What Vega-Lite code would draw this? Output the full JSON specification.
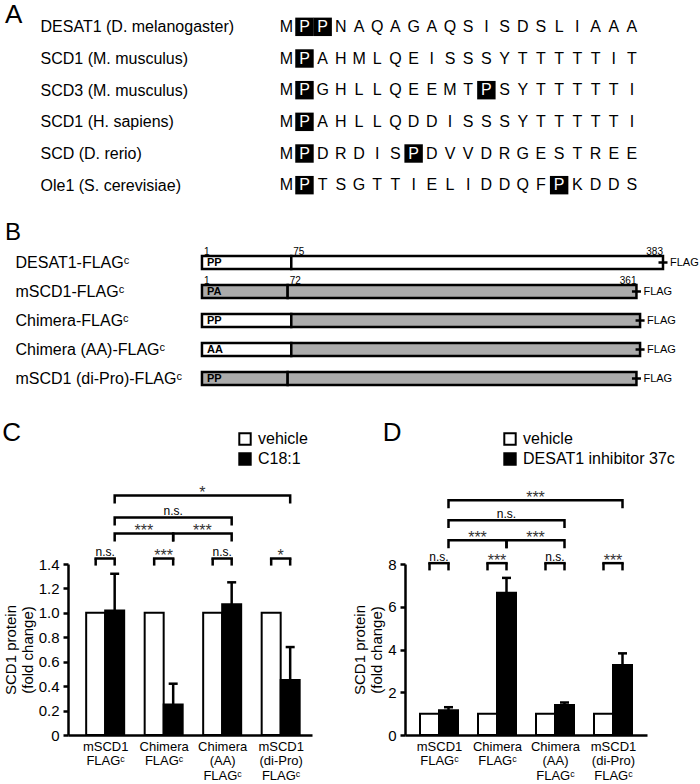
{
  "$schema": "https://vega.github.io/schema/vega-lite/v6.json",
  "background": "white",
  "padding": {"left": 2, "top": 2, "right": 0, "bottom": 0},
  "config": {
    "font": "Liberation Sans",
    "view": {"stroke": null},
    "axis": {"labelColor": "black", "titleColor": "black", "domainColor": "black", "tickColor": "black", "grid": false},
    "legend": {"labelColor": "black"},
    "title": {"color": "black", "fontWeight": "normal", "anchor": "start", "frame": "bounds", "baseline": "alphabetic"}
  },
  "datasets": {
    "seq": [
      {"protein": "DESAT1 (D. melanogaster)", "pos": 1, "aa": "M"},
      {"protein": "DESAT1 (D. melanogaster)", "pos": 2, "aa": "P", "hl": true},
      {"protein": "DESAT1 (D. melanogaster)", "pos": 3, "aa": "P", "hl": true},
      {"protein": "DESAT1 (D. melanogaster)", "pos": 4, "aa": "N"},
      {"protein": "DESAT1 (D. melanogaster)", "pos": 5, "aa": "A"},
      {"protein": "DESAT1 (D. melanogaster)", "pos": 6, "aa": "Q"},
      {"protein": "DESAT1 (D. melanogaster)", "pos": 7, "aa": "A"},
      {"protein": "DESAT1 (D. melanogaster)", "pos": 8, "aa": "G"},
      {"protein": "DESAT1 (D. melanogaster)", "pos": 9, "aa": "A"},
      {"protein": "DESAT1 (D. melanogaster)", "pos": 10, "aa": "Q"},
      {"protein": "DESAT1 (D. melanogaster)", "pos": 11, "aa": "S"},
      {"protein": "DESAT1 (D. melanogaster)", "pos": 12, "aa": "I"},
      {"protein": "DESAT1 (D. melanogaster)", "pos": 13, "aa": "S"},
      {"protein": "DESAT1 (D. melanogaster)", "pos": 14, "aa": "D"},
      {"protein": "DESAT1 (D. melanogaster)", "pos": 15, "aa": "S"},
      {"protein": "DESAT1 (D. melanogaster)", "pos": 16, "aa": "L"},
      {"protein": "DESAT1 (D. melanogaster)", "pos": 17, "aa": "I"},
      {"protein": "DESAT1 (D. melanogaster)", "pos": 18, "aa": "A"},
      {"protein": "DESAT1 (D. melanogaster)", "pos": 19, "aa": "A"},
      {"protein": "DESAT1 (D. melanogaster)", "pos": 20, "aa": "A"},
      {"protein": "SCD1 (M. musculus)", "pos": 1, "aa": "M"},
      {"protein": "SCD1 (M. musculus)", "pos": 2, "aa": "P", "hl": true},
      {"protein": "SCD1 (M. musculus)", "pos": 3, "aa": "A"},
      {"protein": "SCD1 (M. musculus)", "pos": 4, "aa": "H"},
      {"protein": "SCD1 (M. musculus)", "pos": 5, "aa": "M"},
      {"protein": "SCD1 (M. musculus)", "pos": 6, "aa": "L"},
      {"protein": "SCD1 (M. musculus)", "pos": 7, "aa": "Q"},
      {"protein": "SCD1 (M. musculus)", "pos": 8, "aa": "E"},
      {"protein": "SCD1 (M. musculus)", "pos": 9, "aa": "I"},
      {"protein": "SCD1 (M. musculus)", "pos": 10, "aa": "S"},
      {"protein": "SCD1 (M. musculus)", "pos": 11, "aa": "S"},
      {"protein": "SCD1 (M. musculus)", "pos": 12, "aa": "S"},
      {"protein": "SCD1 (M. musculus)", "pos": 13, "aa": "Y"},
      {"protein": "SCD1 (M. musculus)", "pos": 14, "aa": "T"},
      {"protein": "SCD1 (M. musculus)", "pos": 15, "aa": "T"},
      {"protein": "SCD1 (M. musculus)", "pos": 16, "aa": "T"},
      {"protein": "SCD1 (M. musculus)", "pos": 17, "aa": "T"},
      {"protein": "SCD1 (M. musculus)", "pos": 18, "aa": "T"},
      {"protein": "SCD1 (M. musculus)", "pos": 19, "aa": "I"},
      {"protein": "SCD1 (M. musculus)", "pos": 20, "aa": "T"},
      {"protein": "SCD3 (M. musculus)", "pos": 1, "aa": "M"},
      {"protein": "SCD3 (M. musculus)", "pos": 2, "aa": "P", "hl": true},
      {"protein": "SCD3 (M. musculus)", "pos": 3, "aa": "G"},
      {"protein": "SCD3 (M. musculus)", "pos": 4, "aa": "H"},
      {"protein": "SCD3 (M. musculus)", "pos": 5, "aa": "L"},
      {"protein": "SCD3 (M. musculus)", "pos": 6, "aa": "L"},
      {"protein": "SCD3 (M. musculus)", "pos": 7, "aa": "Q"},
      {"protein": "SCD3 (M. musculus)", "pos": 8, "aa": "E"},
      {"protein": "SCD3 (M. musculus)", "pos": 9, "aa": "E"},
      {"protein": "SCD3 (M. musculus)", "pos": 10, "aa": "M"},
      {"protein": "SCD3 (M. musculus)", "pos": 11, "aa": "T"},
      {"protein": "SCD3 (M. musculus)", "pos": 12, "aa": "P", "hl": true},
      {"protein": "SCD3 (M. musculus)", "pos": 13, "aa": "S"},
      {"protein": "SCD3 (M. musculus)", "pos": 14, "aa": "Y"},
      {"protein": "SCD3 (M. musculus)", "pos": 15, "aa": "T"},
      {"protein": "SCD3 (M. musculus)", "pos": 16, "aa": "T"},
      {"protein": "SCD3 (M. musculus)", "pos": 17, "aa": "T"},
      {"protein": "SCD3 (M. musculus)", "pos": 18, "aa": "T"},
      {"protein": "SCD3 (M. musculus)", "pos": 19, "aa": "T"},
      {"protein": "SCD3 (M. musculus)", "pos": 20, "aa": "I"},
      {"protein": "SCD1 (H. sapiens)", "pos": 1, "aa": "M"},
      {"protein": "SCD1 (H. sapiens)", "pos": 2, "aa": "P", "hl": true},
      {"protein": "SCD1 (H. sapiens)", "pos": 3, "aa": "A"},
      {"protein": "SCD1 (H. sapiens)", "pos": 4, "aa": "H"},
      {"protein": "SCD1 (H. sapiens)", "pos": 5, "aa": "L"},
      {"protein": "SCD1 (H. sapiens)", "pos": 6, "aa": "L"},
      {"protein": "SCD1 (H. sapiens)", "pos": 7, "aa": "Q"},
      {"protein": "SCD1 (H. sapiens)", "pos": 8, "aa": "D"},
      {"protein": "SCD1 (H. sapiens)", "pos": 9, "aa": "D"},
      {"protein": "SCD1 (H. sapiens)", "pos": 10, "aa": "I"},
      {"protein": "SCD1 (H. sapiens)", "pos": 11, "aa": "S"},
      {"protein": "SCD1 (H. sapiens)", "pos": 12, "aa": "S"},
      {"protein": "SCD1 (H. sapiens)", "pos": 13, "aa": "S"},
      {"protein": "SCD1 (H. sapiens)", "pos": 14, "aa": "Y"},
      {"protein": "SCD1 (H. sapiens)", "pos": 15, "aa": "T"},
      {"protein": "SCD1 (H. sapiens)", "pos": 16, "aa": "T"},
      {"protein": "SCD1 (H. sapiens)", "pos": 17, "aa": "T"},
      {"protein": "SCD1 (H. sapiens)", "pos": 18, "aa": "T"},
      {"protein": "SCD1 (H. sapiens)", "pos": 19, "aa": "T"},
      {"protein": "SCD1 (H. sapiens)", "pos": 20, "aa": "I"},
      {"protein": "SCD (D. rerio)", "pos": 1, "aa": "M"},
      {"protein": "SCD (D. rerio)", "pos": 2, "aa": "P", "hl": true},
      {"protein": "SCD (D. rerio)", "pos": 3, "aa": "D"},
      {"protein": "SCD (D. rerio)", "pos": 4, "aa": "R"},
      {"protein": "SCD (D. rerio)", "pos": 5, "aa": "D"},
      {"protein": "SCD (D. rerio)", "pos": 6, "aa": "I"},
      {"protein": "SCD (D. rerio)", "pos": 7, "aa": "S"},
      {"protein": "SCD (D. rerio)", "pos": 8, "aa": "P", "hl": true},
      {"protein": "SCD (D. rerio)", "pos": 9, "aa": "D"},
      {"protein": "SCD (D. rerio)", "pos": 10, "aa": "V"},
      {"protein": "SCD (D. rerio)", "pos": 11, "aa": "V"},
      {"protein": "SCD (D. rerio)", "pos": 12, "aa": "D"},
      {"protein": "SCD (D. rerio)", "pos": 13, "aa": "R"},
      {"protein": "SCD (D. rerio)", "pos": 14, "aa": "G"},
      {"protein": "SCD (D. rerio)", "pos": 15, "aa": "E"},
      {"protein": "SCD (D. rerio)", "pos": 16, "aa": "S"},
      {"protein": "SCD (D. rerio)", "pos": 17, "aa": "T"},
      {"protein": "SCD (D. rerio)", "pos": 18, "aa": "R"},
      {"protein": "SCD (D. rerio)", "pos": 19, "aa": "E"},
      {"protein": "SCD (D. rerio)", "pos": 20, "aa": "E"},
      {"protein": "Ole1 (S. cerevisiae)", "pos": 1, "aa": "M"},
      {"protein": "Ole1 (S. cerevisiae)", "pos": 2, "aa": "P", "hl": true},
      {"protein": "Ole1 (S. cerevisiae)", "pos": 3, "aa": "T"},
      {"protein": "Ole1 (S. cerevisiae)", "pos": 4, "aa": "S"},
      {"protein": "Ole1 (S. cerevisiae)", "pos": 5, "aa": "G"},
      {"protein": "Ole1 (S. cerevisiae)", "pos": 6, "aa": "T"},
      {"protein": "Ole1 (S. cerevisiae)", "pos": 7, "aa": "T"},
      {"protein": "Ole1 (S. cerevisiae)", "pos": 8, "aa": "I"},
      {"protein": "Ole1 (S. cerevisiae)", "pos": 9, "aa": "E"},
      {"protein": "Ole1 (S. cerevisiae)", "pos": 10, "aa": "L"},
      {"protein": "Ole1 (S. cerevisiae)", "pos": 11, "aa": "I"},
      {"protein": "Ole1 (S. cerevisiae)", "pos": 12, "aa": "D"},
      {"protein": "Ole1 (S. cerevisiae)", "pos": 13, "aa": "D"},
      {"protein": "Ole1 (S. cerevisiae)", "pos": 14, "aa": "Q"},
      {"protein": "Ole1 (S. cerevisiae)", "pos": 15, "aa": "F"},
      {"protein": "Ole1 (S. cerevisiae)", "pos": 16, "aa": "P", "hl": true},
      {"protein": "Ole1 (S. cerevisiae)", "pos": 17, "aa": "K"},
      {"protein": "Ole1 (S. cerevisiae)", "pos": 18, "aa": "D"},
      {"protein": "Ole1 (S. cerevisiae)", "pos": 19, "aa": "D"},
      {"protein": "Ole1 (S. cerevisiae)", "pos": 20, "aa": "S"}
    ],
    "segments": [
      {"construct": "DESAT1-FLAGᶜ", "start": 1, "end": 75, "origin": "DESAT1", "motif": "PP"},
      {"construct": "DESAT1-FLAGᶜ", "start": 75, "end": 383, "origin": "DESAT1"},
      {"construct": "mSCD1-FLAGᶜ", "start": 1, "end": 72, "origin": "mSCD1", "motif": "PA"},
      {"construct": "mSCD1-FLAGᶜ", "start": 72, "end": 361, "origin": "mSCD1"},
      {"construct": "Chimera-FLAGᶜ", "start": 1, "end": 75, "origin": "DESAT1", "motif": "PP"},
      {"construct": "Chimera-FLAGᶜ", "start": 75, "end": 364, "origin": "mSCD1"},
      {"construct": "Chimera (AA)-FLAGᶜ", "start": 1, "end": 75, "origin": "DESAT1", "motif": "AA"},
      {"construct": "Chimera (AA)-FLAGᶜ", "start": 75, "end": 364, "origin": "mSCD1"},
      {"construct": "mSCD1 (di-Pro)-FLAGᶜ", "start": 1, "end": 72, "origin": "mSCD1", "motif": "PP"},
      {"construct": "mSCD1 (di-Pro)-FLAGᶜ", "start": 72, "end": 361, "origin": "mSCD1"}
    ],
    "constructs": [
      {"construct": "DESAT1-FLAGᶜ", "length": 383, "tag": "FLAG"},
      {"construct": "mSCD1-FLAGᶜ", "length": 361, "tag": "FLAG"},
      {"construct": "Chimera-FLAGᶜ", "length": 364, "tag": "FLAG"},
      {"construct": "Chimera (AA)-FLAGᶜ", "length": 364, "tag": "FLAG"},
      {"construct": "mSCD1 (di-Pro)-FLAGᶜ", "length": 361, "tag": "FLAG"}
    ],
    "residues": [
      {"construct": "DESAT1-FLAGᶜ", "pos": 1, "side": "start"},
      {"construct": "DESAT1-FLAGᶜ", "pos": 75, "side": "start"},
      {"construct": "DESAT1-FLAGᶜ", "pos": 383, "side": "end"},
      {"construct": "mSCD1-FLAGᶜ", "pos": 1, "side": "start"},
      {"construct": "mSCD1-FLAGᶜ", "pos": 72, "side": "start"},
      {"construct": "mSCD1-FLAGᶜ", "pos": 361, "side": "end"}
    ],
    "cBars": [
      {"group": "mSCD1 FLAGᶜ", "g": 1, "condition": "vehicle", "value": 1},
      {"group": "mSCD1 FLAGᶜ", "g": 1, "condition": "C18:1", "value": 1.02, "upper": 1.32},
      {"group": "Chimera FLAGᶜ", "g": 2, "condition": "vehicle", "value": 1},
      {"group": "Chimera FLAGᶜ", "g": 2, "condition": "C18:1", "value": 0.25, "upper": 0.42},
      {"group": "Chimera (AA) FLAGᶜ", "g": 3, "condition": "vehicle", "value": 1},
      {"group": "Chimera (AA) FLAGᶜ", "g": 3, "condition": "C18:1", "value": 1.07, "upper": 1.25},
      {"group": "mSCD1 (di-Pro) FLAGᶜ", "g": 4, "condition": "vehicle", "value": 1},
      {"group": "mSCD1 (di-Pro) FLAGᶜ", "g": 4, "condition": "C18:1", "value": 0.45, "upper": 0.72}
    ],
    "cSmall": [
      {"g": 1, "level": 1.445, "foot": 1.387, "label": "n.s."},
      {"g": 2, "level": 1.445, "foot": 1.387, "label": "***"},
      {"g": 3, "level": 1.445, "foot": 1.387, "label": "n.s."},
      {"g": 4, "level": 1.445, "foot": 1.387, "label": "*"}
    ],
    "cLarge": [
      {"bracket": "b12", "ord": 1, "g": 1, "value": 1.585, "label": "***"},
      {"bracket": "b12", "ord": 2, "g": 1, "value": 1.649, "label": "***"},
      {"bracket": "b12", "ord": 3, "g": 2, "value": 1.649, "label": "***"},
      {"bracket": "b12", "ord": 4, "g": 2, "value": 1.585, "label": "***"},
      {"bracket": "b23", "ord": 1, "g": 2, "value": 1.585, "label": "***"},
      {"bracket": "b23", "ord": 2, "g": 2, "value": 1.649, "label": "***"},
      {"bracket": "b23", "ord": 3, "g": 3, "value": 1.649, "label": "***"},
      {"bracket": "b23", "ord": 4, "g": 3, "value": 1.585, "label": "***"},
      {"bracket": "b13", "ord": 1, "g": 1, "value": 1.715, "label": "n.s."},
      {"bracket": "b13", "ord": 2, "g": 1, "value": 1.78, "label": "n.s."},
      {"bracket": "b13", "ord": 3, "g": 3, "value": 1.78, "label": "n.s."},
      {"bracket": "b13", "ord": 4, "g": 3, "value": 1.715, "label": "n.s."},
      {"bracket": "b14", "ord": 1, "g": 1, "value": 1.895, "label": "*"},
      {"bracket": "b14", "ord": 2, "g": 1, "value": 1.96, "label": "*"},
      {"bracket": "b14", "ord": 3, "g": 4, "value": 1.96, "label": "*"},
      {"bracket": "b14", "ord": 4, "g": 4, "value": 1.895, "label": "*"}
    ],
    "dBars": [
      {"group": "mSCD1 FLAGᶜ", "g": 1, "condition": "vehicle", "value": 1},
      {"group": "mSCD1 FLAGᶜ", "g": 1, "condition": "DESAT1 inhibitor 37c", "value": 1.16, "upper": 1.3},
      {"group": "Chimera FLAGᶜ", "g": 2, "condition": "vehicle", "value": 1},
      {"group": "Chimera FLAGᶜ", "g": 2, "condition": "DESAT1 inhibitor 37c", "value": 6.65, "upper": 7.35},
      {"group": "Chimera (AA) FLAGᶜ", "g": 3, "condition": "vehicle", "value": 1},
      {"group": "Chimera (AA) FLAGᶜ", "g": 3, "condition": "DESAT1 inhibitor 37c", "value": 1.4, "upper": 1.52},
      {"group": "mSCD1 (di-Pro) FLAGᶜ", "g": 4, "condition": "vehicle", "value": 1},
      {"group": "mSCD1 (di-Pro) FLAGᶜ", "g": 4, "condition": "DESAT1 inhibitor 37c", "value": 3.28, "upper": 3.82}
    ],
    "dSmall": [
      {"g": 1, "level": 8.04, "foot": 7.7, "label": "n.s."},
      {"g": 2, "level": 8.04, "foot": 7.7, "label": "***"},
      {"g": 3, "level": 8.04, "foot": 7.7, "label": "n.s."},
      {"g": 4, "level": 8.04, "foot": 7.7, "label": "***"}
    ],
    "dLarge": [
      {"bracket": "b12", "ord": 1, "g": 1, "value": 8.74, "label": "***"},
      {"bracket": "b12", "ord": 2, "g": 1, "value": 9.11, "label": "***"},
      {"bracket": "b12", "ord": 3, "g": 2, "value": 9.11, "label": "***"},
      {"bracket": "b12", "ord": 4, "g": 2, "value": 8.74, "label": "***"},
      {"bracket": "b23", "ord": 1, "g": 2, "value": 8.74, "label": "***"},
      {"bracket": "b23", "ord": 2, "g": 2, "value": 9.11, "label": "***"},
      {"bracket": "b23", "ord": 3, "g": 3, "value": 9.11, "label": "***"},
      {"bracket": "b23", "ord": 4, "g": 3, "value": 8.74, "label": "***"},
      {"bracket": "b13", "ord": 1, "g": 1, "value": 9.68, "label": "n.s."},
      {"bracket": "b13", "ord": 2, "g": 1, "value": 10.05, "label": "n.s."},
      {"bracket": "b13", "ord": 3, "g": 3, "value": 10.05, "label": "n.s."},
      {"bracket": "b13", "ord": 4, "g": 3, "value": 9.68, "label": "n.s."},
      {"bracket": "b14", "ord": 1, "g": 1, "value": 10.61, "label": "***"},
      {"bracket": "b14", "ord": 2, "g": 1, "value": 10.98, "label": "***"},
      {"bracket": "b14", "ord": 3, "g": 4, "value": 10.98, "label": "***"},
      {"bracket": "b14", "ord": 4, "g": 4, "value": 10.61, "label": "***"}
    ]
  },
  "columns": 1,
  "spacing": 27,
  "align": "none",
  "resolve": {"scale": {"color": "independent"}, "legend": {"color": "independent"}},
  "concat": [
    {
      "columns": 1,
      "spacing": 19,
      "align": "none",
      "resolve": {"scale": {"color": "independent"}, "legend": {"color": "independent"}},
      "concat": [
        {
          "title": {"text": "A", "fontSize": 26, "dx": -35, "offset": -17},
          "width": 573,
          "height": 190,
          "data": {"name": "seq"},
          "encoding": {
            "y": {"field": "protein", "type": "nominal",
              "scale": {"domain": ["DESAT1 (D. melanogaster)", "SCD1 (M. musculus)", "SCD3 (M. musculus)", "SCD1 (H. sapiens)", "SCD (D. rerio)", "Ole1 (S. cerevisiae)"]},
              "axis": {"title": null, "domain": false, "ticks": false, "tickSize": 0, "labelAlign": "left", "labelPadding": 28, "labelFontSize": 16, "labelLimit": 0}},
            "x": {"field": "pos", "type": "quantitative", "scale": {"domain": [-11, 20.5], "nice": false, "zero": false}, "axis": null}
          },
          "layer": [
            {"transform": [{"filter": "datum.hl"}],
             "mark": {"type": "point", "shape": "square", "filled": true, "size": 340, "color": "black", "opacity": 1}},
            {"mark": {"type": "text", "fontSize": 16, "baseline": "middle"},
             "encoding": {"text": {"field": "aa"}, "color": {"condition": {"test": "datum.hl", "value": "white"}, "value": "black"}}}
          ]
        },
        {
          "title": {"text": "B", "fontSize": 24, "dx": -10, "offset": 2},
          "width": 595,
          "height": 145,
          "encoding": {
            "y": {"field": "construct", "type": "nominal",
              "scale": {"domain": ["DESAT1-FLAGᶜ", "mSCD1-FLAGᶜ", "Chimera-FLAGᶜ", "Chimera (AA)-FLAGᶜ", "mSCD1 (di-Pro)-FLAGᶜ"]},
              "axis": {"title": null, "domain": false, "ticks": false, "tickSize": 0, "labelAlign": "left", "labelPadding": 53, "labelFontSize": 16, "labelLimit": 0}}
          },
          "layer": [
            {"data": {"name": "segments"},
             "mark": {"type": "bar", "orient": "horizontal", "height": 13, "stroke": "black", "strokeWidth": 2.5},
             "encoding": {
               "x": {"field": "start", "type": "quantitative", "scale": {"domain": [-110, 383], "nice": false, "zero": false}, "axis": null},
               "x2": {"field": "end"},
               "color": {"field": "origin", "type": "nominal", "scale": {"domain": ["DESAT1", "mSCD1"], "range": ["white", "#ababab"]}, "legend": null}
             }},
            {"data": {"name": "segments"},
             "transform": [{"filter": "datum.motif"}],
             "mark": {"type": "text", "align": "left", "baseline": "middle", "dx": 5, "fontSize": 11, "fontWeight": "bold", "fill": "black"},
             "encoding": {
               "x": {"field": "start", "type": "quantitative", "axis": null},
               "text": {"field": "motif"}
             }},
            {"data": {"name": "constructs"},
             "mark": {"type": "tick", "orient": "horizontal", "size": 9, "thickness": 2.5, "color": "black", "opacity": 1},
             "encoding": {"x": {"field": "length", "type": "quantitative", "axis": null}}},
            {"data": {"name": "constructs"},
             "mark": {"type": "text", "align": "left", "baseline": "middle", "dx": 7, "fontSize": 11, "fill": "black"},
             "encoding": {"x": {"field": "length", "type": "quantitative", "axis": null}, "text": {"field": "tag"}}},
            {"data": {"name": "residues"},
             "transform": [{"filter": "datum.side == 'start'"}],
             "mark": {"type": "text", "align": "left", "baseline": "alphabetic", "dx": 2, "dy": -8, "fontSize": 10, "fill": "black"},
             "encoding": {"x": {"field": "pos", "type": "quantitative", "axis": null}, "text": {"field": "pos", "type": "quantitative"}}},
            {"data": {"name": "residues"},
             "transform": [{"filter": "datum.side == 'end'"}],
             "mark": {"type": "text", "align": "right", "baseline": "alphabetic", "dx": 0, "dy": -8, "fontSize": 10, "fill": "black"},
             "encoding": {"x": {"field": "pos", "type": "quantitative", "axis": null}, "text": {"field": "pos", "type": "quantitative"}}}
          ]
        }
      ]
    },
    {
      "spacing": 40,
      "resolve": {"scale": {"color": "independent"}, "legend": {"color": "independent"}},
      "hconcat": [
        {
          "title": {"text": "C", "fontSize": 26, "dx": -1, "offset": -15},
          "width": 244,
          "height": 171,
          "encoding": {
            "x": {"field": "g", "type": "quantitative", "title": null,
              "scale": {"domain": [0.45, 4.45], "nice": false, "zero": false},
              "axis": {"values": [1, 2, 3, 4], "labelExpr": "datum.value == 1 ? ['mSCD1', 'FLAGᶜ'] : datum.value == 2 ? ['Chimera', 'FLAGᶜ'] : datum.value == 3 ? ['Chimera', '(AA)', 'FLAGᶜ'] : ['mSCD1', '(di-Pro)', 'FLAGᶜ']", "ticks": false, "domainWidth": 2.5, "labelFontSize": 13, "labelLineHeight": 14.5, "labelPadding": 5, "labelBaseline": "top", "labelOverlap": false, "labelFlush": false}},
            "y": {"field": "value", "type": "quantitative", "title": ["SCD1 protein", "(fold change)"],
              "scale": {"domain": [0, 1.4], "nice": false},
              "axis": {"values": [0, 0.2, 0.4, 0.6, 0.8, 1.0, 1.2, 1.4], "labelExpr": "datum.value == 0 ? '0' : format(datum.value, '.1f')", "labelFontSize": 15, "tickSize": 5, "tickWidth": 2.5, "domainWidth": 2.5, "labelPadding": 4, "titleFontSize": 15, "titleFontWeight": "normal", "titlePadding": 3}}
          },
          "layer": [
            {"data": {"name": "cBars"},
             "transform": [{"filter": "datum.condition == 'vehicle'"}],
             "mark": {"type": "bar", "orient": "vertical", "width": 19, "xOffset": -9.5, "stroke": "black", "strokeWidth": 2},
             "encoding": {"color": {"field": "condition", "type": "nominal", "scale": {"domain": ["vehicle", "C18:1"], "range": ["white", "black"]},
               "legend": {"orient": "none", "legendX": 169, "legendY": -133, "title": null, "symbolType": "square", "symbolSize": 130, "symbolStrokeWidth": 2, "symbolStrokeColor": "black", "labelFontSize": 16, "rowPadding": 0, "labelOffset": 5}}}},
            {"data": {"name": "cBars"},
             "transform": [{"filter": "datum.condition != 'vehicle'"}],
             "mark": {"type": "bar", "orient": "vertical", "width": 19, "xOffset": 9.5, "stroke": "black", "strokeWidth": 2},
             "encoding": {"color": {"field": "condition", "type": "nominal"}}},
            {"data": {"name": "cBars"},
             "transform": [{"filter": "isValid(datum.upper)"}],
             "mark": {"type": "rule", "xOffset": 9.5, "strokeWidth": 2.5, "color": "black"},
             "encoding": {"y2": {"field": "upper"}}},
            {"data": {"name": "cBars"},
             "transform": [{"filter": "isValid(datum.upper)"}],
             "mark": {"type": "tick", "orient": "horizontal", "xOffset": 9.5, "size": 9, "thickness": 2.5, "color": "black", "opacity": 1},
             "encoding": {"y": {"field": "upper", "type": "quantitative", "title": ["SCD1 protein", "(fold change)"]}}},
            {"data": {"name": "cSmall"},
             "mark": {"type": "tick", "orient": "horizontal", "size": 21.5, "thickness": 2.5, "color": "black", "opacity": 1},
             "encoding": {"y": {"field": "level", "type": "quantitative", "title": ["SCD1 protein", "(fold change)"]}}},
            {"data": {"name": "cSmall"},
             "mark": {"type": "rule", "xOffset": -9.5, "strokeWidth": 2.5, "color": "black"},
             "encoding": {"y": {"field": "level", "type": "quantitative", "title": ["SCD1 protein", "(fold change)"]}, "y2": {"field": "foot"}}},
            {"data": {"name": "cSmall"},
             "mark": {"type": "rule", "xOffset": 9.5, "strokeWidth": 2.5, "color": "black"},
             "encoding": {"y": {"field": "level", "type": "quantitative", "title": ["SCD1 protein", "(fold change)"]}, "y2": {"field": "foot"}}},
            {"data": {"name": "cSmall"},
             "transform": [{"filter": "datum.label == 'n.s.'"}],
             "mark": {"type": "text", "baseline": "alphabetic", "dy": -2.5, "fontSize": 12, "fill": "black"},
             "encoding": {"y": {"field": "level", "type": "quantitative", "title": ["SCD1 protein", "(fold change)"]}, "text": {"field": "label"}}},
            {"data": {"name": "cSmall"},
             "transform": [{"filter": "datum.label != 'n.s.'"}],
             "mark": {"type": "text", "baseline": "alphabetic", "dy": 2.5, "fontSize": 16, "fill": "#333333"},
             "encoding": {"y": {"field": "level", "type": "quantitative", "title": ["SCD1 protein", "(fold change)"]}, "text": {"field": "label"}}},
            {"data": {"name": "cLarge"},
             "mark": {"type": "line", "xOffset": 9.5, "strokeWidth": 2.5, "color": "black", "strokeJoin": "miter"},
             "encoding": {"detail": {"field": "bracket"}, "order": {"field": "ord"}}},
            {"data": {"name": "cLarge"},
             "transform": [{"filter": "datum.label == 'n.s.'"}],
             "mark": {"type": "text", "xOffset": 9.5, "baseline": "alphabetic", "dy": -2.5, "fontSize": 12, "fill": "black"},
             "encoding": {
               "x": {"aggregate": "mean", "field": "g", "type": "quantitative", "title": null},
               "y": {"aggregate": "max", "field": "value", "type": "quantitative", "title": ["SCD1 protein", "(fold change)"]},
               "detail": {"field": "bracket"},
               "text": {"field": "label"}}},
            {"data": {"name": "cLarge"},
             "transform": [{"filter": "datum.label != 'n.s.'"}],
             "mark": {"type": "text", "xOffset": 9.5, "baseline": "alphabetic", "dy": 2.5, "fontSize": 16, "fill": "#333333"},
             "encoding": {
               "x": {"aggregate": "mean", "field": "g", "type": "quantitative", "title": null},
               "y": {"aggregate": "max", "field": "value", "type": "quantitative", "title": ["SCD1 protein", "(fold change)"]},
               "detail": {"field": "bracket"},
               "text": {"field": "label"}}}
          ]
        },
        {
          "title": {"text": "D", "fontSize": 26, "dx": 30, "offset": -15},
          "width": 242,
          "height": 171,
          "encoding": {
            "x": {"field": "g", "type": "quantitative", "title": null,
              "scale": {"domain": [0.5, 4.5], "nice": false, "zero": false},
              "axis": {"values": [1, 2, 3, 4], "labelExpr": "datum.value == 1 ? ['mSCD1', 'FLAGᶜ'] : datum.value == 2 ? ['Chimera', 'FLAGᶜ'] : datum.value == 3 ? ['Chimera', '(AA)', 'FLAGᶜ'] : ['mSCD1', '(di-Pro)', 'FLAGᶜ']", "ticks": false, "domainWidth": 2.5, "labelFontSize": 13, "labelLineHeight": 14.5, "labelPadding": 5, "labelBaseline": "top", "labelOverlap": false, "labelFlush": false}},
            "y": {"field": "value", "type": "quantitative", "title": ["SCD1 protein", "(fold change)"],
              "scale": {"domain": [0, 8], "nice": false},
              "axis": {"values": [0, 2, 4, 6, 8], "labelFontSize": 15, "tickSize": 5, "tickWidth": 2.5, "domainWidth": 2.5, "labelPadding": 4, "titleFontSize": 15, "titleFontWeight": "normal", "titlePadding": 3}}
          },
          "layer": [
            {"data": {"name": "dBars"},
             "transform": [{"filter": "datum.condition == 'vehicle'"}],
             "mark": {"type": "bar", "orient": "vertical", "width": 19, "xOffset": -9.5, "stroke": "black", "strokeWidth": 2},
             "encoding": {"color": {"field": "condition", "type": "nominal", "scale": {"domain": ["vehicle", "DESAT1 inhibitor 37c"], "range": ["white", "black"]},
               "legend": {"orient": "none", "legendX": 97, "legendY": -133, "title": null, "symbolType": "square", "symbolSize": 130, "symbolStrokeWidth": 2, "symbolStrokeColor": "black", "labelFontSize": 16, "rowPadding": 0, "labelOffset": 5, "labelLimit": 0}}}},
            {"data": {"name": "dBars"},
             "transform": [{"filter": "datum.condition != 'vehicle'"}],
             "mark": {"type": "bar", "orient": "vertical", "width": 19, "xOffset": 9.5, "stroke": "black", "strokeWidth": 2},
             "encoding": {"color": {"field": "condition", "type": "nominal"}}},
            {"data": {"name": "dBars"},
             "transform": [{"filter": "isValid(datum.upper)"}],
             "mark": {"type": "rule", "xOffset": 9.5, "strokeWidth": 2.5, "color": "black"},
             "encoding": {"y2": {"field": "upper"}}},
            {"data": {"name": "dBars"},
             "transform": [{"filter": "isValid(datum.upper)"}],
             "mark": {"type": "tick", "orient": "horizontal", "xOffset": 9.5, "size": 9, "thickness": 2.5, "color": "black", "opacity": 1},
             "encoding": {"y": {"field": "upper", "type": "quantitative", "title": ["SCD1 protein", "(fold change)"]}}},
            {"data": {"name": "dSmall"},
             "mark": {"type": "tick", "orient": "horizontal", "size": 21.5, "thickness": 2.5, "color": "black", "opacity": 1},
             "encoding": {"y": {"field": "level", "type": "quantitative", "title": ["SCD1 protein", "(fold change)"]}}},
            {"data": {"name": "dSmall"},
             "mark": {"type": "rule", "xOffset": -9.5, "strokeWidth": 2.5, "color": "black"},
             "encoding": {"y": {"field": "level", "type": "quantitative", "title": ["SCD1 protein", "(fold change)"]}, "y2": {"field": "foot"}}},
            {"data": {"name": "dSmall"},
             "mark": {"type": "rule", "xOffset": 9.5, "strokeWidth": 2.5, "color": "black"},
             "encoding": {"y": {"field": "level", "type": "quantitative", "title": ["SCD1 protein", "(fold change)"]}, "y2": {"field": "foot"}}},
            {"data": {"name": "dSmall"},
             "transform": [{"filter": "datum.label == 'n.s.'"}],
             "mark": {"type": "text", "baseline": "alphabetic", "dy": -2.5, "fontSize": 12, "fill": "black"},
             "encoding": {"y": {"field": "level", "type": "quantitative", "title": ["SCD1 protein", "(fold change)"]}, "text": {"field": "label"}}},
            {"data": {"name": "dSmall"},
             "transform": [{"filter": "datum.label != 'n.s.'"}],
             "mark": {"type": "text", "baseline": "alphabetic", "dy": 2.5, "fontSize": 16, "fill": "#333333"},
             "encoding": {"y": {"field": "level", "type": "quantitative", "title": ["SCD1 protein", "(fold change)"]}, "text": {"field": "label"}}},
            {"data": {"name": "dLarge"},
             "mark": {"type": "line", "xOffset": 9.5, "strokeWidth": 2.5, "color": "black", "strokeJoin": "miter"},
             "encoding": {"detail": {"field": "bracket"}, "order": {"field": "ord"}}},
            {"data": {"name": "dLarge"},
             "transform": [{"filter": "datum.label == 'n.s.'"}],
             "mark": {"type": "text", "xOffset": 9.5, "baseline": "alphabetic", "dy": -2.5, "fontSize": 12, "fill": "black"},
             "encoding": {
               "x": {"aggregate": "mean", "field": "g", "type": "quantitative", "title": null},
               "y": {"aggregate": "max", "field": "value", "type": "quantitative", "title": ["SCD1 protein", "(fold change)"]},
               "detail": {"field": "bracket"},
               "text": {"field": "label"}}},
            {"data": {"name": "dLarge"},
             "transform": [{"filter": "datum.label != 'n.s.'"}],
             "mark": {"type": "text", "xOffset": 9.5, "baseline": "alphabetic", "dy": 2.5, "fontSize": 16, "fill": "#333333"},
             "encoding": {
               "x": {"aggregate": "mean", "field": "g", "type": "quantitative", "title": null},
               "y": {"aggregate": "max", "field": "value", "type": "quantitative", "title": ["SCD1 protein", "(fold change)"]},
               "detail": {"field": "bracket"},
               "text": {"field": "label"}}}
          ]
        }
      ]
    }
  ]
}
